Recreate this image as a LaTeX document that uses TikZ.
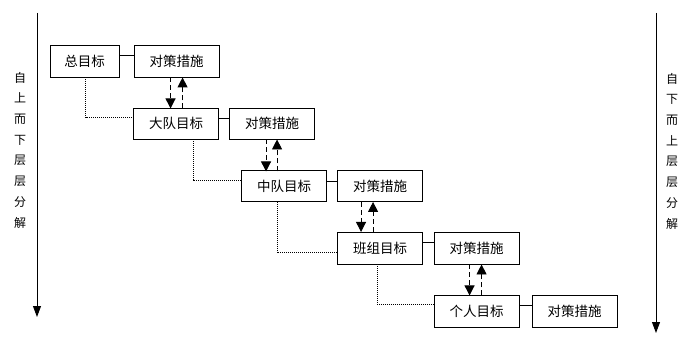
\documentclass[tikz,border=0pt]{standalone}
\usepackage{fontspec}
\newfontfamily\cjk{Noto Sans CJK SC}
\usetikzlibrary{arrows.meta,calc}
\begin{document}
\begin{tikzpicture}[x=1pt,y=-1pt,
  box/.style={draw,line width=0.9pt,inner sep=0pt,minimum height=32pt,font=\cjk\fontsize{13.5}{14}\selectfont},
  goalbox/.style={box,minimum width=85pt},
  solidlink/.style={line width=0.9pt},
  dotlink/.style={line width=0.8pt,dash pattern=on 1pt off 1pt},
  dasharrow/.style={line width=0.9pt,dash pattern=on 5pt off 3pt,-{Triangle[width=10pt,length=10pt]}},
  mainarrow/.style={line width=0.9pt,-{Triangle[width=8pt,length=11pt]}},
  sidelabel/.style={align=center,inner sep=0pt,font=\cjk\fontsize{12}{20.7}\selectfont}]
\useasboundingbox (0,0) rectangle (694,353);
% boxes
\node[box,minimum width=69pt] (g0) at (84.5,61) {总目标};
\node[goalbox] (m0) at (176.5,61) {对策措施};
\node[goalbox,minimum height=31pt] (g1) at (176,123.5) {大队目标};
\node[goalbox,minimum height=31pt] (m1) at (272,123.5) {对策措施};
\node[goalbox,minimum height=31pt] (g2) at (284,186) {中队目标};
\node[goalbox,minimum height=31pt] (m2) at (380,186) {对策措施};
\node[goalbox] (g3) at (380,248) {班组目标};
\node[goalbox] (m3) at (476.5,248) {对策措施};
\node[goalbox] (g4) at (476.5,311) {个人目标};
\node[goalbox] (m4) at (574.5,311) {对策措施};
% solid links
\foreach \a/\b in {g0/m0,g1/m1,g2/m2,g3/m3,g4/m4}
  \draw[solidlink] ([yshift=-11pt]\a.north east) -- ([yshift=-11pt]\b.north west);
% dotted links
\draw[dotlink] ($(g0.south west)+(36,0)$) |- ([yshift=-10pt]g1.north west);
\draw[dotlink] ($(g1.south west)+(60,0)$) |- ([yshift=-10pt]g2.north west);
\draw[dotlink] ($(g2.south west)+(36,0)$) |- ([yshift=-21pt]g3.north west);
\draw[dotlink] ($(g3.south west)+(40,0)$) |- ([yshift=-10pt]g4.north west);
% dashed arrows
\draw[dasharrow] ($(m0.south west)+(37,0)$) -- ($(m0.south west)+(37,31)$);
\draw[dasharrow] ($(m0.south west)+(49,31)$) -- ($(m0.south west)+(49,0)$);
\draw[dasharrow] ($(m1.south west)+(37,0)$) -- ($(m1.south west)+(37,32)$);
\draw[dasharrow] ($(m1.south west)+(48,32)$) -- ($(m1.south west)+(48,0)$);
\draw[dasharrow] ($(m2.south west)+(24,0)$) -- ($(m2.south west)+(24,30)$);
\draw[dasharrow] ($(m2.south west)+(36,30)$) -- ($(m2.south west)+(36,0)$);
\draw[dasharrow] ($(m3.south west)+(36,0)$) -- ($(m3.south west)+(36,31)$);
\draw[dasharrow] ($(m3.south west)+(48,31)$) -- ($(m3.south west)+(48,0)$);
% side arrows
\coordinate (lt) at (37,13);
\coordinate (lb) at (37,317);
\coordinate (rt) at (656,13);
\coordinate (rb) at (656,333);
\draw[mainarrow] (lt) -- (lb);
\draw[mainarrow] (rt) -- (rb);
\node[sidelabel] (ll) at (20,150) {自\\上\\而\\下\\层\\层\\分\\解};
\node[sidelabel] (rl) at (672,151) {自\\下\\而\\上\\层\\层\\分\\解};
\end{tikzpicture}
\end{document}
